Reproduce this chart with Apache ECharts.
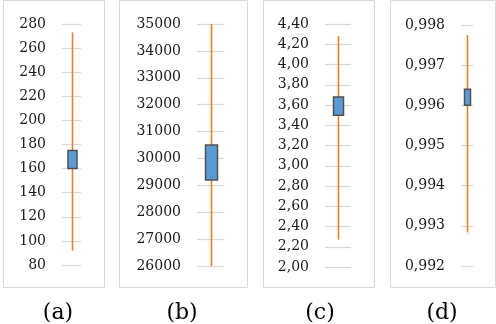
<!DOCTYPE html>
<html>
<head>
<meta charset="utf-8">
<script src="https://cdn.jsdelivr.net/npm/echarts@6/dist/echarts.min.js"></script>
<style>html,body{margin:0;padding:0;background:#fff}#c{width:496px;height:324px}</style>
</head>
<body>
<div id="c"></div>
<script>
// Data: [low, q1, q3, high] per panel
const panelNames = ['(a)', '(b)', '(c)', '(d)'];
const statsA = [92, 160, 175, 273];
const statsB = [26000, 29200, 30500, 35000];
const statsC = [2.27, 3.50, 3.68, 4.28];
const statsD = [0.99283, 0.9960, 0.99640, 0.99775];
const axisMin = [80, 26000, 2.0, 0.992];
const axisMax = [280, 35000, 4.4, 0.998];
const axisStep = [20, 1000, 0.2, 0.001];
const axisDecimals = [0, 0, 2, 3];

const allStats = [statsA, statsB, statsC, statsD];

// Layout (styling only)
const grids = [
  {left: 62, top: 24, width: 19, height: 241},
  {left: 197, top: 24, width: 27, height: 242},
  {left: 325, top: 24, width: 26, height: 243},
  {left: 461, top: 25, width: 12, height: 241}
];
const panels = [
  {x: 3, y: 0, w: 101, h: 287},
  {x: 119, y: 0, w: 128, h: 287},
  {x: 263, y: 0, w: 111, h: 287},
  {x: 390, y: 0, w: 105, h: 287}
];
const boxW = [9, 12, 10, 6];
const captionX = [58, 182, 320, 442];

const chart = echarts.init(document.getElementById('c'), null, {renderer: 'canvas'});

function fmt(v, d) {
  return v.toFixed(d).replace('.', ',');
}

const option = {
  animation: false,
  grid: grids.map(g => Object.assign({containLabel: false}, g)),
  xAxis: grids.map((g, i) => ({
    gridIndex: i, type: 'category', data: [panelNames[i]], show: false
  })),
  yAxis: grids.map((g, i) => ({
    gridIndex: i, type: 'value',
    min: axisMin[i], max: axisMax[i], interval: axisStep[i],
    axisLine: {show: false}, axisTick: {show: false},
    splitLine: {show: true, lineStyle: {color: '#d9d9d9', width: 1.3}},
    axisLabel: {
      margin: 16, color: '#1a1a1a', fontFamily: 'DejaVu Serif', fontSize: 14,
      formatter: v => fmt(v, axisDecimals[i])
    }
  })),
  series: allStats.map((s, i) => ({
    type: 'custom',
    xAxisIndex: i, yAxisIndex: i,
    data: [[0].concat(s)],
    renderItem: function (params, api) {
      const x = api.value(0);
      const low = api.coord([x, api.value(1)]);
      const q1 = api.coord([x, api.value(2)]);
      const q3 = api.coord([x, api.value(3)]);
      const high = api.coord([x, api.value(4)]);
      const cx = Math.round(low[0]) + 0.5;
      const w = boxW[i];
      return {
        type: 'group',
        children: [
          {type: 'line', shape: {x1: cx, y1: high[1], x2: cx, y2: low[1]},
           style: {stroke: '#ED7D31', lineWidth: 1.6}},
          {type: 'rect', shape: {x: cx - w / 2, y: q3[1], width: w, height: q1[1] - q3[1]},
           style: {fill: '#5B9BD5', stroke: '#505050', lineWidth: 1.5}}
        ]
      };
    }
  })),
  graphic: panels.map(p => ({
    type: 'rect', shape: {x: p.x + 0.5, y: p.y + 0.5, width: p.w, height: p.h},
    style: {fill: 'none', stroke: '#d9d9d9', lineWidth: 1}, z: -1
  })).concat(panelNames.map((n, i) => ({
    type: 'text', x: captionX[i], y: 313,
    style: {text: n, fill: '#000', font: '22px "DejaVu Serif"', textAlign: 'center', textVerticalAlign: 'middle'}
  })))
};
chart.setOption(option);
</script>
</body>
</html>
